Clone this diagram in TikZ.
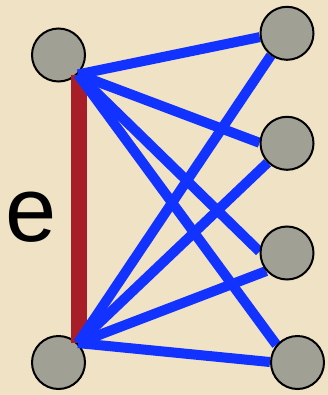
\documentclass[tikz,border=0pt]{standalone}
\usepackage{fontspec}
\setmainfont{Liberation Sans}
\definecolor{parch}{RGB}{240,226,197}
\definecolor{nodegray}{RGB}{160,160,148}
\definecolor{edgeblue}{RGB}{18,50,255}
\definecolor{edgered}{RGB}{168,30,40}
\pgfdeclarelayer{paper}
\pgfdeclarelayer{back}
\pgfdeclarelayer{mid}
\pgfsetlayers{paper,back,mid,main}
\tikzset{
  vtx/.style={circle, draw=black, line width=2pt, fill=nodegray, minimum size=53pt, inner sep=0pt},
  blueedge/.style={draw=edgeblue, line width=10pt},
  rededge/.style={draw=edgered, line width=16pt}
}
\begin{document}
\begin{tikzpicture}[x=1pt,y=-1pt]
\begin{pgfonlayer}{paper}
  \fill[parch] (0,0) rectangle (328,395);
\end{pgfonlayer}
\useasboundingbox (0,0) rectangle (328,395);
\begin{pgfonlayer}{back}
  \node[vtx] (L1) at (58.5,55) {};
  \node[vtx] (L2) at (58.5,362.5) {};
\end{pgfonlayer}
\node[vtx] (R1) at (287,33.3) {};
\node[vtx] (R2) at (287,143.3) {};
\node[vtx] (R3) at (287,253) {};
\node[vtx] (R4) at (297.5,362.5) {};
\coordinate (etop) at (78.7,75);
\coordinate (ebot) at (78.7,343);
\node[font=\fontsize{92}{92}\selectfont, inner sep=0pt] (elabel) at (31,217) {e};
\begin{pgfonlayer}{mid}
  \draw[rededge] (etop) -- (ebot);
  \draw[blueedge] (L1.-45) -- (R1.188);
  \draw[blueedge] (L1.-45) -- (R2.179);
  \draw[blueedge] (L1.-45) -- (R3.177);
  \draw[blueedge] (L1.-45) -- (R4.140);
  \draw[blueedge] (L2.45) -- (R1.234);
  \draw[blueedge] (L2.45) -- (R2.225);
  \draw[blueedge] (L2.45) -- (R3.221);
  \draw[blueedge] (L2.45) -- (R4.179);
\end{pgfonlayer}
\end{tikzpicture}
\end{document}
